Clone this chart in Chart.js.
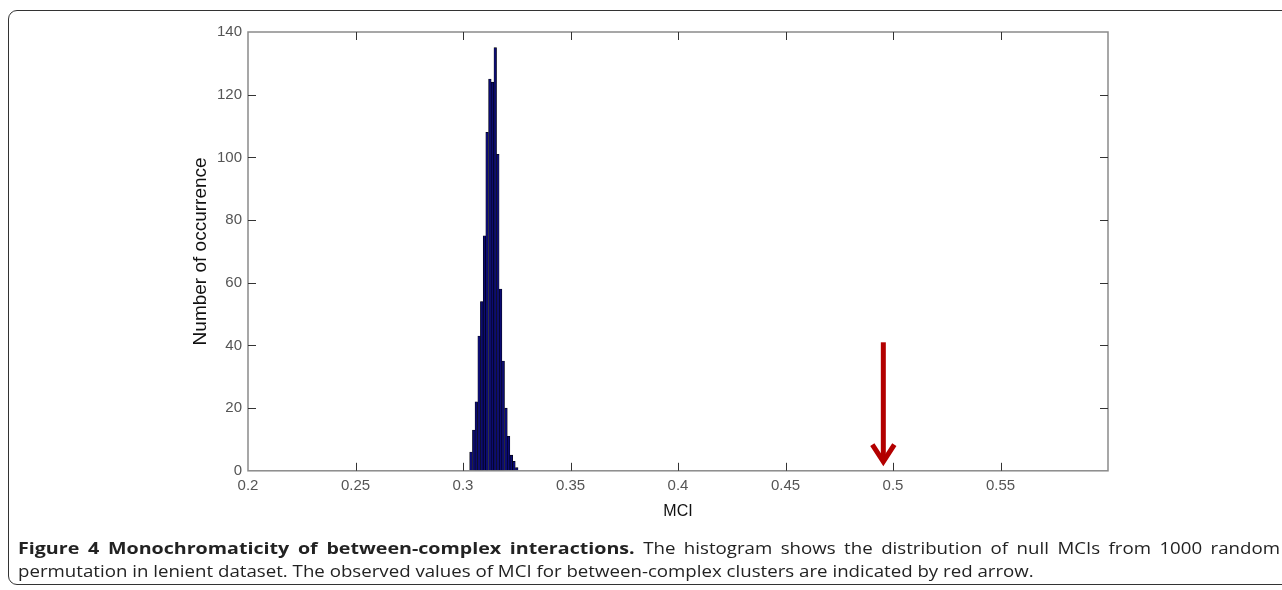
<!DOCTYPE html>
<html>
<head>
<meta charset="utf-8">
<script src="https://cdn.jsdelivr.net/npm/chart.js@4.4.1/dist/chart.umd.min.js"></script>
<style>
  html, body { margin: 0; padding: 0; background: #fff; }
  body { width: 1282px; height: 590px; position: relative; overflow: hidden; }
  #frame { position: absolute; left: 8px; top: 10px; width: 1290px; height: 575px;
           border: 1px solid #333; border-radius: 9px; box-sizing: border-box; }
  #wrap { position: absolute; left: 0; top: 0; width: 1282px; height: 590px; }
  #caption { position: absolute; left: 18px; top: 536px; width: 1060.5px;
             transform: scaleX(1.19); transform-origin: 0 0;
             font-family: "Open Sans", sans-serif; font-size: 15.7px; line-height: 23px;
             color: #222; text-align: justify; text-align-last: left; }
  #caption b { font-weight: 700; font-size: 16.5px; }
</style>
</head>
<body>
<div id="frame"></div>
<div id="wrap"><canvas id="c" width="1282" height="590"></canvas></div>
<div id="caption"><b>Figure 4 Monochromaticity of between-complex interactions.</b> The histogram shows the distribution of null MCIs from 1000 random permutation in lenient dataset. The observed values of MCI for between-complex clusters are indicated by red arrow.</div>
<script>
// ---- data ----
const binCenters = [0.3037, 0.3050, 0.3062, 0.3075, 0.3087, 0.3100, 0.3112, 0.3125, 0.3137,
                    0.3150, 0.3162, 0.3175, 0.3187, 0.3200, 0.3212, 0.3225, 0.3237, 0.3250];
const binCounts  = [6, 13, 22, 43, 54, 75, 108, 125, 124,
                    135, 101, 58, 35, 20, 11, 5, 3, 1];
const xTicks = [0.2, 0.25, 0.3, 0.35, 0.4, 0.45, 0.5, 0.55, 0.6];
const yTicks = [0, 20, 40, 60, 80, 100, 120, 140];
const observedMCI = 0.4955;   // red arrow x position (data units)
const arrowFrom = 41;         // arrow tail (count units)
const arrowTo = 2;            // arrow tip (count units)

const points = binCenters.map((x, i) => ({ x: x, y: binCounts[i] }));

const frameTicks = {
  id: 'frameTicks',
  afterDatasetsDraw(chart) {
    const { ctx, chartArea: a, scales: { x, y } } = chart;
    ctx.save();
    ctx.strokeStyle = '#8a8a8a';
    ctx.lineWidth = 1.5;
    ctx.strokeRect(a.left, a.top, a.right - a.left, a.bottom - a.top);
    ctx.strokeStyle = '#333';
    ctx.lineWidth = 1;
    const L = 8;
    ctx.beginPath();
    xTicks.forEach(v => {
      const px = Math.round(x.getPixelForValue(v)) + 0.5;
      if (px <= a.left + 1 || px >= a.right - 1) return;
      ctx.moveTo(px, a.bottom); ctx.lineTo(px, a.bottom - L);
      ctx.moveTo(px, a.top); ctx.lineTo(px, a.top + L);
    });
    yTicks.forEach(v => {
      const py = Math.round(y.getPixelForValue(v)) + 0.5;
      if (py >= a.bottom - 1 || py <= a.top + 1) return;
      ctx.moveTo(a.left, py); ctx.lineTo(a.left + L, py);
      ctx.moveTo(a.right, py); ctx.lineTo(a.right - L, py);
    });
    ctx.stroke();
    const ax = x.getPixelForValue(observedMCI);
    const y0 = y.getPixelForValue(arrowFrom);
    const y1 = y.getPixelForValue(arrowTo);
    ctx.strokeStyle = '#b30000';
    ctx.lineWidth = 5;
    ctx.lineCap = 'butt';
    ctx.lineJoin = 'miter';
    ctx.beginPath();
    ctx.moveTo(ax, y0); ctx.lineTo(ax, y1 - 4);
    ctx.stroke();
    ctx.beginPath();
    ctx.moveTo(ax - 11, y1 - 20);
    ctx.lineTo(ax, y1 - 3);
    ctx.lineTo(ax + 11, y1 - 20);
    ctx.stroke();
    ctx.restore();
  }
};

new Chart(document.getElementById('c'), {
  type: 'bar',
  data: {
    datasets: [{
      data: points,
      backgroundColor: '#0b0b72',
      borderColor: '#000000',
      borderWidth: 0.6,
      barPercentage: 1.0,
      categoryPercentage: 1.0
    }]
  },
  options: {
    responsive: false,
    animation: false,
    events: [],
    layout: { padding: { left: 183, right: 174, top: 32, bottom: 69 } },
    plugins: { legend: { display: false }, tooltip: { enabled: false } },
    scales: {
      x: {
        type: 'linear',
        offset: false,
        min: 0.2, max: 0.6,
        afterBuildTicks: s => { s.ticks = xTicks.map(v => ({ value: v })); },
        grid: { display: false, drawTicks: false, offset: false },
        border: { display: false },
        ticks: {
          padding: 6, color: '#555', maxRotation: 0, autoSkip: false,
          font: { family: 'Liberation Sans, Arial, sans-serif', size: 15 },
          callback: v => (v >= 0.599 ? '' : String(Math.round(v * 100) / 100))
        },
        title: {
          display: true, text: 'MCI', color: '#111',
          font: { family: 'Liberation Sans, Arial, sans-serif', size: 16 },
          padding: { top: 1, bottom: 0 }
        }
      },
      y: {
        min: 0, max: 140,
        afterBuildTicks: s => { s.ticks = yTicks.map(v => ({ value: v })); },
        afterFit: s => { s.width = 65; },
        grid: { display: false, drawTicks: false },
        border: { display: false },
        ticks: {
          padding: 6, color: '#555',
          font: { family: 'Liberation Sans, Arial, sans-serif', size: 15 }
        },
        title: {
          display: true, text: 'Number of occurrence', color: '#111',
          font: { family: 'Liberation Sans, Arial, sans-serif', size: 19 },
          padding: { top: 6, bottom: 0 }
        }
      }
    }
  },
  plugins: [frameTicks]
});
</script>
</body>
</html>
